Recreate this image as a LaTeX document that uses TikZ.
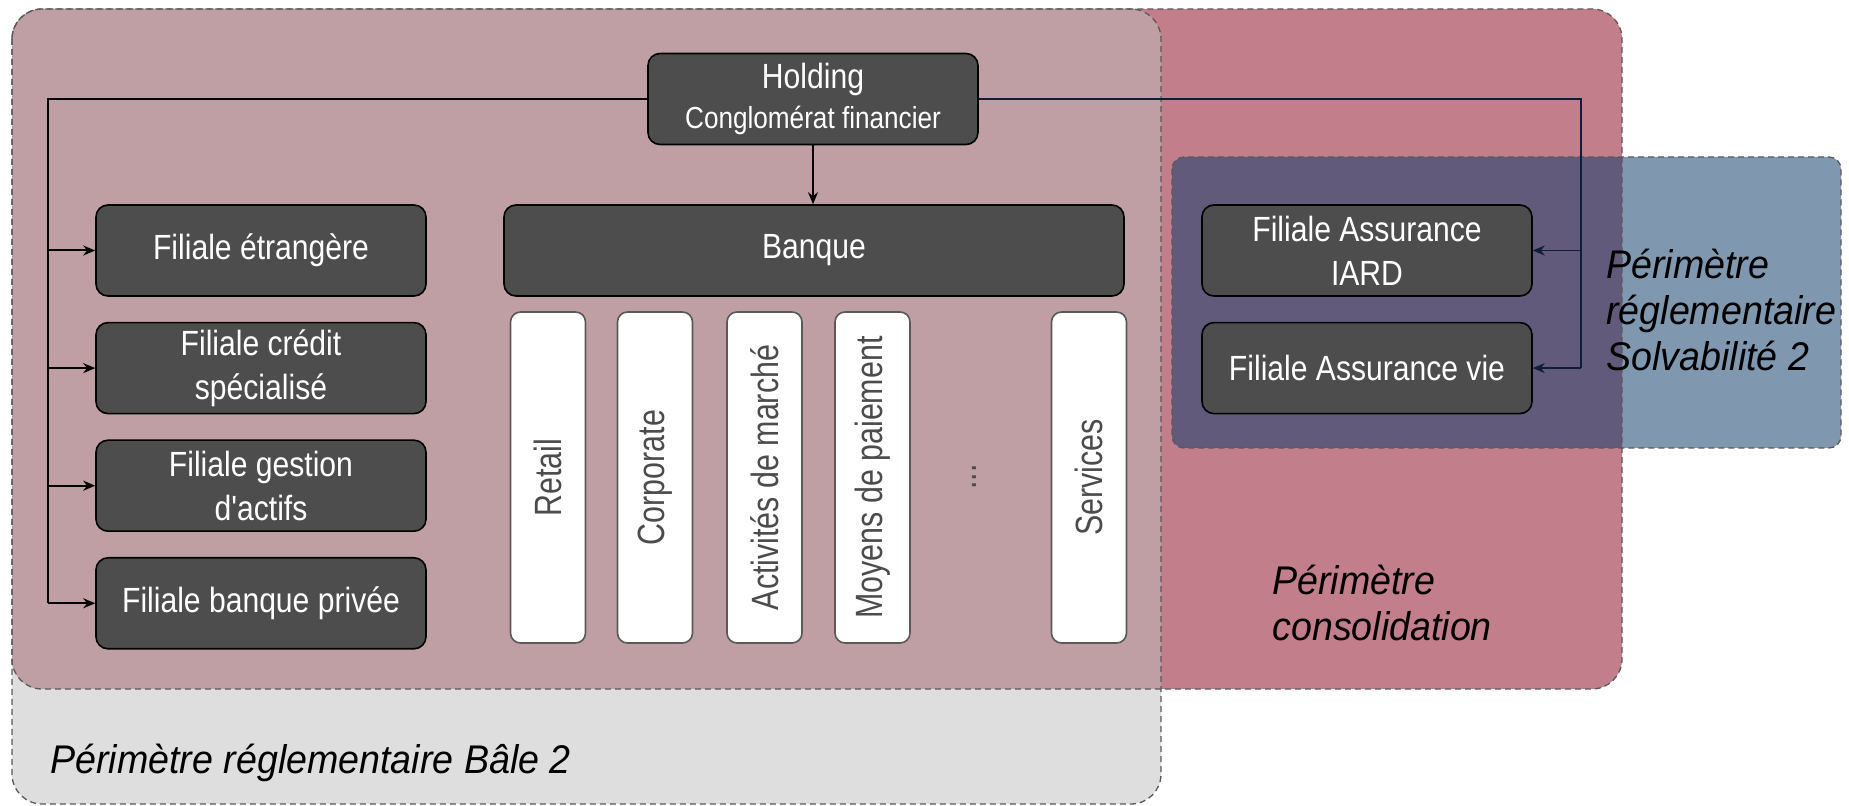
\documentclass[tikz,border=0pt]{standalone}
\usepackage{fontspec}
\setmainfont{Liberation Sans}
\newfontfamily\boxfont[FakeStretch=0.86]{Liberation Sans}
\newfontfamily\stripfont[FakeStretch=0.8]{Liberation Sans}
\newfontfamily\zonefont[FakeStretch=0.94]{Liberation Sans}
\usepackage{xcolor}
\usetikzlibrary{arrows.meta, positioning}

\definecolor{zonegray}{HTML}{DEDEDE}
\definecolor{zonered}{HTML}{C27E8B}
\definecolor{zonemix}{HTML}{BF9EA4}
\definecolor{zoneblue}{HTML}{7F98B0}
\definecolor{zonedeep}{HTML}{615A7A}
\definecolor{boxdark}{HTML}{4D4D4D}
\definecolor{wirenavy}{HTML}{0E1E3A}

\begin{document}
\begin{tikzpicture}[
    x=0.5pt, y=-0.5pt,
    node distance=12.5pt and 16pt,
    entity/.style={rectangle, rounded corners=6pt, draw=black, fill=boxdark, line width=0.8pt, text=white, font=\boxfont\fontsize{17.5}{22}\selectfont, align=center, minimum width=165pt, minimum height=45.5pt, inner sep=2pt},
    metier/.style={rectangle, rounded corners=5pt, draw=black!65, fill=white, line width=0.8pt, text=black!70, font=\stripfont\fontsize{19}{22}\selectfont, rotate=90, minimum width=165.5pt, minimum height=37.5pt, inner sep=0pt},
    zone/.style={draw=black!65, dash pattern=on 3pt off 2pt, line width=0.65pt},
    zonelabel/.style={font=\zonefont\itshape\fontsize{20}{23}\selectfont, align=left, inner sep=0pt, text=black},
    arr/.style={-{Stealth[length=6pt, width=5pt]}, line width=1pt},
    thinarr/.style={-{Stealth[length=6pt, width=5pt]}, line width=0.6pt},
]
\useasboundingbox (0,0) rectangle (1849,806);

% perimeters
\coordinate (bale-nw) at (12,9);
\coordinate (bale-se) at (1161,804);
\coordinate (conso-nw) at (12,9);
\coordinate (conso-se) at (1622,689);
\coordinate (solva-nw) at (1172,157);
\coordinate (solva-se) at (1841,448);

\fill[zonegray, rounded corners=15pt] (bale-nw) rectangle (bale-se);
\fill[zonered, rounded corners=15pt] (conso-nw) rectangle (conso-se);
\begin{scope}
  \clip[rounded corners=15pt] (bale-nw) rectangle (bale-se);
  \fill[zonemix, rounded corners=15pt] (conso-nw) rectangle (conso-se);
\end{scope}
\fill[zoneblue, rounded corners=6pt] (solva-nw) rectangle (solva-se);
\begin{scope}
  \clip[rounded corners=15pt] (conso-nw) rectangle (conso-se);
  \fill[zonedeep, rounded corners=6pt] (solva-nw) rectangle (solva-se);
\end{scope}
\draw[zone, rounded corners=15pt] (bale-nw) rectangle (bale-se);
\draw[zone, rounded corners=15pt] (conso-nw) rectangle (conso-se);
\draw[zone, rounded corners=6pt] (solva-nw) rectangle (solva-se);

\node[zonelabel, anchor=base west] (lbale) at (50,774) {Périmètre réglementaire Bâle 2};
\node[zonelabel, anchor=west] (lconso) at (1272,603) {Périmètre\\consolidation};
\node[zonelabel, anchor=west] (lsolva) at (1606,310) {Périmètre\\réglementaire\\Solvabilité 2};

% entities
\node[entity, font=\boxfont\fontsize{17.5}{20}\selectfont] (hold) at (813,99) {Holding\\{\fontsize{15.2}{18}\selectfont Conglomérat financier}};
\node[entity, minimum width=310pt] (banque) at (814,250.5) {Banque};

\node[entity] (fet) at (261,250.5) {Filiale étrangère};
\node[entity, below=of fet] (fcs) {Filiale crédit\\spécialisé};
\node[entity, below=of fcs] (fga) {Filiale gestion\\d'actifs};
\node[entity, below=of fga] (fbp) {Filiale banque privée};

\node[entity] (fai) at (1367,250.5) {Filiale Assurance\\IARD};
\node[entity, below=of fai] (fav) {Filiale Assurance vie};

\node[metier] (retail) at (548,477.5) {Retail};
\node[metier] (corp) at (655,477.5) {Corporate};
\node[metier] (marche) at (764.5,477.5) {Activités de marché};
\node[metier] (paiement) at (872.5,477.5) {Moyens de paiement};
\node[rotate=90, text=black!70, font=\stripfont\fontsize{19}{22}\selectfont, inner sep=0pt] (etc) at (974,477) {...};
\node[metier] (services) at (1089,477.5) {Services};

% links
\coordinate (lbus) at (48,99);
\coordinate (rbus) at (1581,99);

\draw[line width=1pt] (hold.west) -- (lbus) -- (lbus |- fbp.west);
\draw[arr] (lbus |- fet.west) -- (fet.west);
\draw[arr] (lbus |- fcs.west) -- (fcs.west);
\draw[arr] (lbus |- fga.west) -- (fga.west);
\draw[arr] (lbus |- fbp.west) -- (fbp.west);

\draw[thinarr] (hold.south) -- (hold.south |- banque.north);

\draw[wirenavy, line width=0.8pt] (hold.east) -- (rbus) -- (rbus |- fav.east);
\draw[arr, wirenavy, line width=0.8pt] (rbus |- fai.east) -- (fai.east);
\draw[arr, wirenavy, line width=0.8pt] (rbus |- fav.east) -- (fav.east);

\end{tikzpicture}
\end{document}
